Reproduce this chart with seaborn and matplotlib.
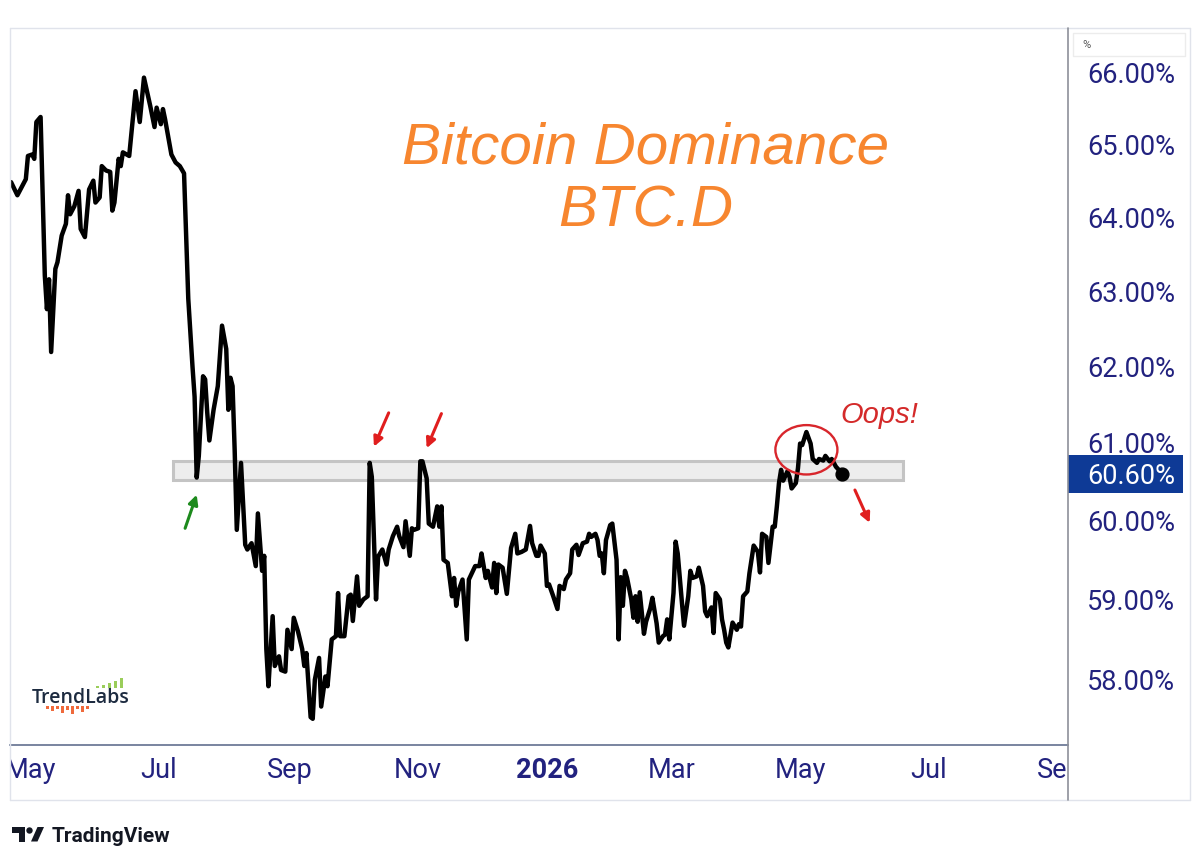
"""
Bitcoin dominance (BTC.D) daily line, drawn in TradingView style
"""
import matplotlib
matplotlib.use("Agg")
import matplotlib.pyplot as plt
import matplotlib.dates as mdates
from matplotlib.patches import Rectangle, Ellipse, Polygon
from matplotlib.lines import Line2D
from matplotlib.ticker import FuncFormatter, NullLocator
import pandas as pd
import seaborn as sns

# Values, days counted from 1 May 2025
START = pd.Timestamp("2025-05-01")
day_offsets = [
    -9, -6, -2, -1, 1, 2, 3, 5, 7, 8, 9, 10, 12, 13, 15, 17, 18, 19, 21, 23,
    24, 26, 28, 30, 31, 33, 34, 36, 38, 39, 40, 42, 43, 44, 47, 50, 52, 54, 57, 59,
    60, 62, 63, 64, 67, 69, 71, 73, 75, 77, 78, 79, 80, 82, 83, 84, 85, 87, 89, 91,
    93, 94, 95, 96, 97, 98, 100, 101, 102, 103, 105, 107, 108, 110, 111, 112, 113, 115, 116, 118,
    119, 121, 122, 124, 125, 127, 129, 130, 131, 133, 134, 135, 137, 138, 140, 141, 143, 145, 146, 147,
    149, 151, 152, 153, 155, 156, 158, 160, 161, 162, 164, 165, 167, 169, 170, 172, 174, 175, 177, 178,
    180, 181, 182, 184, 185, 186, 188, 189, 191, 193, 194, 195, 196, 198, 200, 201, 202, 203, 205, 207,
    208, 211, 213, 214, 216, 217, 219, 220, 221, 222, 224, 226, 228, 230, 231, 233, 235, 237, 238, 240,
    241, 242, 244, 245, 246, 248, 250, 251, 253, 254, 256, 257, 259, 260, 262, 264, 265, 266, 268, 269,
    270, 271, 272, 273, 275, 276, 278, 279, 280, 281, 282, 283, 285, 286, 287, 288, 289, 291, 292, 294,
    295, 297, 298, 300, 301, 302, 303, 305, 306, 307, 309, 310, 312, 313, 314, 316, 317, 319, 320, 321,
    323, 324, 325, 327, 328, 329, 330, 331, 333, 335, 336, 337, 338, 340, 341, 343, 345, 346, 347, 349,
    350, 352, 353, 354, 355, 356, 357, 359, 360, 361, 363, 364, 365, 366, 368, 370, 371, 373, 374, 376,
    377, 379, 380, 381, 382, 384, 385,
]
dominance = [
    64.48, 64.30, 64.52, 64.84, 64.86, 64.80, 65.31, 65.38, 63.21, 62.76, 63.16, 62.19, 63.30, 63.39, 63.75, 63.91, 64.30, 64.04, 64.15, 64.36,
    63.84, 63.73, 64.38, 64.50, 64.20, 64.27, 64.70, 64.64, 64.62, 64.09, 64.20, 64.80, 64.70, 64.89, 64.84, 65.74, 65.31, 65.93, 65.53, 65.24,
    65.51, 65.28, 65.49, 65.35, 64.86, 64.75, 64.70, 64.60, 62.90, 62.00, 61.60, 60.55, 60.83, 61.87, 61.83, 61.39, 61.03, 61.43, 61.74, 62.54,
    62.23, 61.43, 61.85, 61.74, 60.90, 59.88, 60.74, 60.20, 59.69, 59.63, 59.71, 59.42, 60.09, 59.36, 59.55, 58.38, 57.92, 58.79, 58.17, 58.29,
    58.12, 58.10, 58.62, 58.38, 58.77, 58.60, 58.38, 58.17, 58.33, 57.54, 57.52, 58.00, 58.27, 57.67, 58.04, 57.92, 58.50, 58.54, 59.08, 58.54,
    58.54, 59.04, 59.06, 58.73, 59.29, 58.92, 59.00, 59.04, 60.74, 60.56, 59.00, 59.54, 59.63, 59.44, 59.63, 59.80, 59.92, 59.80, 59.66, 59.99,
    59.55, 59.90, 59.88, 59.90, 60.76, 60.76, 60.54, 59.96, 59.92, 60.18, 59.92, 60.18, 59.50, 59.46, 59.04, 59.27, 58.92, 59.10, 59.25, 58.50,
    59.25, 59.42, 59.42, 59.58, 59.27, 59.36, 59.15, 59.46, 59.08, 59.44, 59.40, 59.07, 59.65, 59.83, 59.58, 59.60, 59.63, 59.93, 59.71, 59.55,
    59.55, 59.68, 59.58, 59.17, 59.19, 59.04, 58.88, 59.17, 59.13, 59.25, 59.33, 59.63, 59.69, 59.56, 59.71, 59.73, 59.83, 59.79, 59.83, 59.75,
    59.55, 59.58, 59.33, 59.75, 59.94, 59.96, 59.50, 58.50, 59.28, 58.92, 59.36, 59.27, 59.00, 58.77, 59.04, 58.72, 59.09, 58.57, 58.72, 58.89,
    59.02, 58.70, 58.46, 58.54, 58.56, 58.75, 58.50, 59.08, 59.73, 59.58, 58.96, 58.67, 59.04, 59.36, 59.27, 59.29, 59.40, 59.17, 58.85, 58.79,
    58.90, 58.58, 59.08, 59.00, 58.75, 58.62, 58.46, 58.40, 58.71, 58.62, 58.69, 58.66, 59.04, 59.10, 59.33, 59.68, 59.60, 59.34, 59.83, 59.79,
    59.46, 59.92, 59.92, 60.18, 60.48, 60.65, 60.51, 60.63, 60.56, 60.41, 60.48, 60.67, 60.99, 60.97, 61.14, 60.99, 60.79, 60.74, 60.79, 60.77,
    60.83, 60.76, 60.79, 60.74, 60.69, 60.63, 60.60,
]

# Grey resistance zone (days from start, value range)
zone_days = [68, 414]
zone_values = [60.52, 60.76]

# Axis labels
price_ticks = [58, 59, 60, 61, 62, 63, 64, 65, 66]
month_dates = ["2025-05-01", "2025-07-01", "2025-09-01", "2025-11-01", "2026-01-01",
               "2026-03-01", "2026-05-01", "2026-07-01", "2026-09-01"]
month_labels = ["May", "Jul", "Sep", "Nov", "2026", "Mar", "May", "Jul", "Sep"]

# Arrows: (tail day, tail value, head day, head value)
red_arrows = [(170, 61.39, 163, 60.95), (195, 61.38, 188, 60.93), (391, 60.39, 398, 59.97)]
green_arrows = [(73.5, 59.90, 79, 60.33)]

NAVY = "#22227f"
ORANGE = "#f7862f"
RED = "#e01e1e"
W, H = 1200, 864

sns.set_theme(style="white")
plt.rcParams["font.family"] = ["Roboto", "DejaVu Sans"]

fig = plt.figure(figsize=(W / 100, H / 100), dpi=100)
fig.patch.set_facecolor("white")


def fpx(x, y):
    # pixel position (from top left) to figure fraction
    return x / W, 1 - y / H


# Main price panel
ax = fig.add_axes([10 / W, 1 - 745 / H, 1058 / W, 717 / H])
df = pd.DataFrame({
    "date": START + pd.to_timedelta(day_offsets, unit="D"),
    "btc_d": dominance,
})
sns.lineplot(data=df, x="date", y="btc_d", ax=ax, color="black", linewidth=3.2,
             solid_joinstyle="round", solid_capstyle="round", zorder=3)
ax.scatter(df["date"].iloc[-1], df["btc_d"].iloc[-1], s=85, color="black", zorder=4)

x0 = mdates.date2num(START)
ax.set_yscale("log")
ax.set_ylim(57.20, 66.63)
ax.set_xlim(x0 - 9.5, x0 + 492)

ax.add_patch(Rectangle((x0 + zone_days[0], zone_values[0]), zone_days[1] - zone_days[0],
                       zone_values[1] - zone_values[0], facecolor="#ededed",
                       edgecolor="#c4c4c4", linewidth=2.2, zorder=2))

ax.set_xticks([])
ax.set_yticks(price_ticks)
ax.yaxis.set_minor_locator(NullLocator())
ax.yaxis.set_major_formatter(FuncFormatter(lambda v, _: f"{v:.2f}%"))
ax.yaxis.tick_right()
ax.tick_params(axis="y", length=0, pad=13.7, labelsize=19.5, labelcolor=NAVY)
ax.set_xlabel("")
ax.set_ylabel("")
for side in ["top", "left", "right"]:
    ax.spines[side].set_visible(False)
ax.spines["bottom"].set_color("#62708f")
ax.spines["bottom"].set_linewidth(1.2)

# Annotations
for td, tv, hd, hv in red_arrows:
    ax.annotate("", xy=(x0 + hd, hv), xytext=(x0 + td, tv),
                arrowprops=dict(arrowstyle="-|>", color=RED, lw=2.2, mutation_scale=14,
                                shrinkA=0, shrinkB=0), zorder=5)
for td, tv, hd, hv in green_arrows:
    ax.annotate("", xy=(x0 + hd, hv), xytext=(x0 + td, tv),
                arrowprops=dict(arrowstyle="-|>", color="#1d8a1d", lw=2.2, mutation_scale=14,
                                shrinkA=0, shrinkB=0), zorder=5)
ax.add_patch(Ellipse((x0 + 368, 60.91), width=29.4, height=0.64, fill=False,
                     edgecolor="#d8262c", linewidth=1.7, zorder=5))
ax.text(x0 + 384, 61.26, "Oops!", color="#d42a2a", fontsize=21, style="italic",
        family=["Liberation Sans", "DejaVu Sans"], va="baseline", ha="left")

# Title
fig.text(*fpx(646, 163), "Bitcoin Dominance", ha="center", va="baseline", fontsize=42,
         style="italic", color=ORANGE, family=["Liberation Sans", "DejaVu Sans"])
fig.text(*fpx(646, 226.5), "BTC.D", ha="center", va="baseline", fontsize=42,
         style="italic", color=ORANGE, family=["Liberation Sans", "DejaVu Sans"])

# Time axis strip with clipped month labels
axb = fig.add_axes([10 / W, 1 - 800 / H, 1058 / W, 55 / H])
axb.set_xlim(ax.get_xlim())
axb.set_ylim(0, 1)
axb.axis("off")
for d, lab in zip(month_dates, month_labels):
    axb.text(mdates.date2num(pd.Timestamp(d)), 0.545, lab, ha="center", va="center",
             fontsize=19.5, color=NAVY, weight="bold" if lab == "2026" else "normal",
             clip_on=True)

# Frame lines
border = "#e0e3eb"
for xs, ys in [([10, 1190], [28, 28]), ([10, 1190], [800, 800]),
               ([10, 10], [28, 800]), ([1190, 1190], [28, 800])]:
    fig.add_artist(Line2D([x / W for x in xs], [1 - y / H for y in ys], color=border, lw=1))
fig.add_artist(Line2D([1068 / W, 1068 / W], [1 - 28 / H, 1 - 800 / H], color="#8d9099", lw=1.2))

# Unit box on the price scale
fig.add_artist(Rectangle(fpx(1073, 56), 112 / W, 23 / H, transform=fig.transFigure,
                         facecolor="white", edgecolor="#ececec", lw=1))
fig.text(*fpx(1082, 48), "%", fontsize=8, color="#555555", ha="left", va="baseline")

# Last value tag
y_disp = ax.transData.transform((x0, dominance[-1]))[1]
fig.add_artist(Rectangle((1068 / W, (y_disp - 19) / H), 115 / W, 38 / H,
                         transform=fig.transFigure, facecolor="#0e3a96", edgecolor="none"))
fig.text(1087 / W, y_disp / H, f"{dominance[-1]:.2f}%", color="white", fontsize=19.5,
         ha="left", va="center_baseline")

# TrendLabs mark
fig.text(*fpx(32, 703), "TrendLabs", fontsize=14, weight="semibold", color="#1d2b40",
         family=["Open Sans", "DejaVu Sans"], ha="left", va="baseline")
for x, h in zip([96, 102, 108, 114, 120], [2, 3, 5, 7, 10]):
    fig.add_artist(Rectangle(fpx(x, 688), 2.5 / W, h / H, transform=fig.transFigure,
                             facecolor="#9acd5a", edgecolor="none"))
for x, h in zip([46, 51, 56, 61, 66, 71, 76, 81, 86], [3, 5, 3, 7, 4, 8, 3, 6, 3]):
    fig.add_artist(Rectangle(fpx(x, 706 + h), 2.5 / W, h / H, transform=fig.transFigure,
                             facecolor="#ef6a3c", edgecolor="none"))

# TradingView mark
tv = "#131722"
fig.add_artist(Polygon([fpx(12, 827), fpx(25, 827), fpx(25, 841.5), fpx(19, 841.5),
                        fpx(19, 833), fpx(12, 833)], closed=True,
                       transform=fig.transFigure, facecolor=tv, edgecolor="none"))
fig.add_artist(Ellipse(fpx(29.5, 830.5), 6.4 / W, 6.4 / H, transform=fig.transFigure,
                       facecolor=tv, edgecolor="none"))
fig.add_artist(Polygon([fpx(31, 841.5), fpx(37.5, 827), fpx(44, 827), fpx(37.5, 841.5)],
                       closed=True, transform=fig.transFigure, facecolor=tv, edgecolor="none"))
fig.text(*fpx(52, 841.5), "TradingView", fontsize=15, weight="bold", color=tv,
         ha="left", va="baseline")

fig.savefig("out.png", dpi=100, facecolor="white")
